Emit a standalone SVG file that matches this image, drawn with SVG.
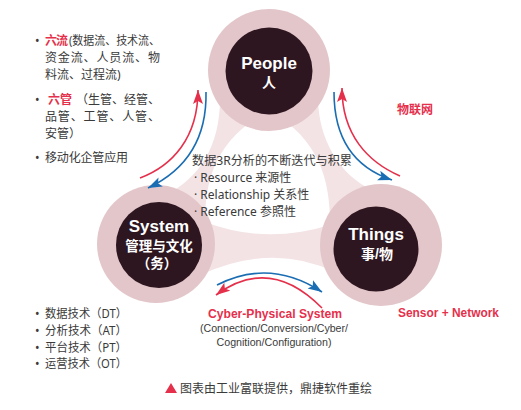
<svg xmlns="http://www.w3.org/2000/svg" width="521" height="410" viewBox="0 0 521 410">
<style>
.ring{fill:#e3c6ca}
.core{fill:#2e1621}
.nt{font-family:"Liberation Sans","Noto Sans CJK SC",sans-serif;font-weight:bold;fill:#fff;text-anchor:middle}
.cn{font-family:"Noto Sans","Noto Sans CJK SC",sans-serif;font-size:12px;fill:#3a3a3a}
.red{fill:#e5304c}
.rl{font-family:"Liberation Sans","Noto Sans CJK SC",sans-serif;font-weight:bold;fill:#e5304c}
.gl{font-family:"Liberation Sans",sans-serif;fill:#3a3a3a}
.ar{fill:none;stroke:#e5304c;stroke-width:1.6}
.ab{fill:none;stroke:#1b6db3;stroke-width:1.6}
</style>
<defs>
<marker id="hr" markerUnits="userSpaceOnUse" markerWidth="18" markerHeight="12" refX="14" refY="5" orient="auto" viewBox="0 0 18 12"><path d="M14,5 L0,0 L3,5 L0,10 Z" fill="#e5304c"/></marker>
<marker id="hb" markerUnits="userSpaceOnUse" markerWidth="18" markerHeight="12" refX="14" refY="5" orient="auto" viewBox="0 0 18 12"><path d="M14,5 L0,0 L3,5 L0,10 Z" fill="#1b6db3"/></marker>
</defs>
<rect width="521" height="410" fill="#fff"/>
<g id="background">
<path d="M220,95 C221,145 200,178 165,195 L200,275 Q272,242 335,272 L372,190 C340,175 318,140 318,97 Z" fill="#f3e3e5"/>
<path d="M205,222 C205,180 215,140 269,110 C320,140 330,180 330,225 Q265,245 205,222 Z" fill="#fff"/>
</g>
<g id="people">
<circle class="ring" cx="269" cy="70" r="61"/>
<circle class="core" cx="269" cy="71" r="43.5"/>
<text class="nt" x="269" y="69" font-size="17">People</text>
<text class="nt" x="269" y="87" font-size="14">人</text>
</g>
<g id="system">
<circle class="ring" cx="156" cy="244" r="59"/>
<circle class="core" cx="159" cy="245" r="43"/>
<text class="nt" x="159" y="232" font-size="17">System</text>
<text class="nt" x="159" y="251" font-size="13.5">管理与文化</text>
<text class="nt" x="157" y="268" font-size="13.5">（务）</text>
</g>
<g id="things">
<circle class="ring" cx="381" cy="245" r="61"/>
<circle class="core" cx="376" cy="249" r="42.5"/>
<text class="nt" x="376" y="240" font-size="17">Things</text>
<text class="nt" x="377" y="259" font-size="14">事/物</text>
</g>
<g id="connectors">
<path class="ar" d="M140,178 C172,166 198,138 198,90" marker-end="url(#hr)"/>
<path class="ab" d="M206,92 C207,140 186,170 148,188" marker-end="url(#hb)"/>
<path class="ar" d="M400,176 C368,162 342,135 342,88" marker-end="url(#hr)"/>
<path class="ab" d="M334,92 C334,140 356,168 392,180" marker-end="url(#hb)"/>
<path class="ab" d="M217,285 Q270,258 322,292" marker-end="url(#hb)"/>
<path class="ar" d="M322,308 Q270,255 216,295" marker-end="url(#hr)"/>
</g>
<g id="center-text">
<text class="cn" x="192" y="165" textLength="160" lengthAdjust="spacingAndGlyphs">数据3R分析的不断迭代与积累</text>
<text class="cn" x="194" y="182">· Resource 来源性</text>
<text class="cn" x="194" y="199">· Relationship 关系性</text>
<text class="cn" x="194" y="216">· Reference 参照性</text>
</g>
<g id="left-list">
<text class="cn" x="35" y="45">•</text>
<text class="cn red" x="45" y="45" font-weight="bold" textLength="23">六流</text>
<text class="cn" x="69" y="45" textLength="91" lengthAdjust="spacingAndGlyphs">(数据流、技术流、</text>
<text class="cn" x="45" y="62" textLength="115" lengthAdjust="spacing">资金流、人员流、物</text>
<text class="cn" x="45" y="79">料流、过程流)</text>
<text class="cn" x="35" y="104">•</text>
<text class="cn red" x="48" y="104" font-weight="bold" textLength="24" lengthAdjust="spacing">六管</text>
<text class="cn" x="76" y="104" textLength="84" lengthAdjust="spacing">（生管、经管、</text>
<text class="cn" x="45" y="121" textLength="115" lengthAdjust="spacing">品管、工管、人管、</text>
<text class="cn" x="45" y="138">安管）</text>
<text class="cn" x="35" y="162">•</text>
<text class="cn" x="45" y="162" textLength="83">移动化企管应用</text>
</g>
<g id="bottom-list">
<text class="cn" x="35" y="318">•</text>
<text class="cn" x="45" y="318" textLength="82" lengthAdjust="spacingAndGlyphs">数据技术（DT）</text>
<text class="cn" x="35" y="335">•</text>
<text class="cn" x="45" y="335" textLength="82" lengthAdjust="spacingAndGlyphs">分析技术（AT）</text>
<text class="cn" x="35" y="352">•</text>
<text class="cn" x="45" y="352" textLength="82" lengthAdjust="spacingAndGlyphs">平台技术（PT）</text>
<text class="cn" x="35" y="368">•</text>
<text class="cn" x="45" y="368" textLength="82" lengthAdjust="spacingAndGlyphs">运营技术（OT）</text>
</g>
<g id="labels">
<text class="rl" x="397" y="114" font-size="12">物联网</text>
<text class="rl" x="275" y="318" font-size="12" text-anchor="middle" textLength="134" lengthAdjust="spacingAndGlyphs">Cyber-Physical System</text>
<text class="gl" x="274" y="332" font-size="10.5" text-anchor="middle" textLength="148" lengthAdjust="spacingAndGlyphs">(Connection/Conversion/Cyber/</text>
<text class="gl" x="274" y="346" font-size="10.5" text-anchor="middle" textLength="115" lengthAdjust="spacingAndGlyphs">Cognition/Configuration)</text>
<text class="rl" x="398" y="317" font-size="12" textLength="101" lengthAdjust="spacingAndGlyphs">Sensor + Network</text>
</g>
<g id="footer">
<polygon points="165,393 171,383 177,393" fill="#e5304c"/>
<text class="cn" x="180" y="393" font-size="12.5" textLength="192" lengthAdjust="spacingAndGlyphs">图表由工业富联提供，鼎捷软件重绘</text>
</g>
</svg>
